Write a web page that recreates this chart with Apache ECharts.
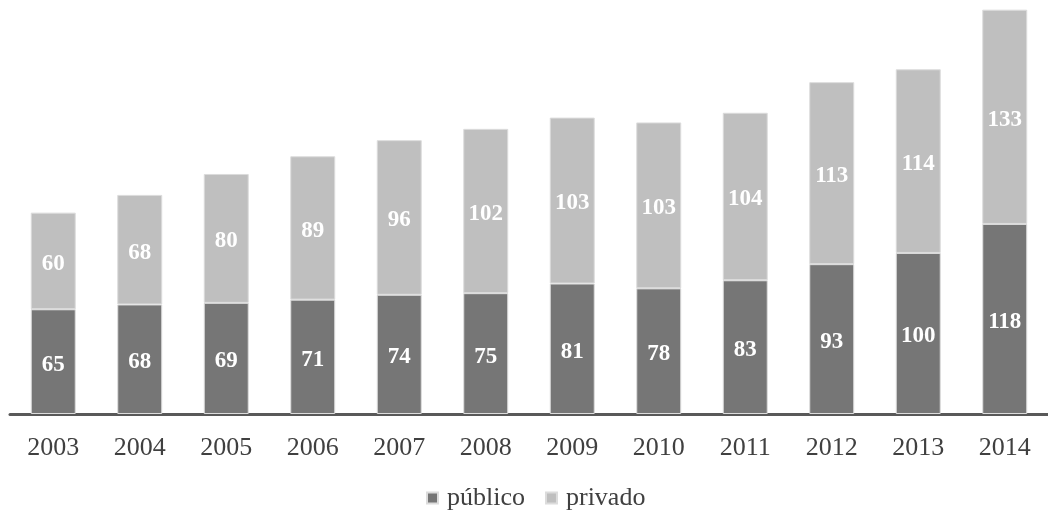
<!DOCTYPE html>
<html>
<head>
<meta charset="utf-8">
<script src="https://cdn.jsdelivr.net/npm/echarts@6/dist/echarts.min.js"></script>
<style>
  html, body { margin: 0; padding: 0; background: #ffffff; }
  #chart { width: 1048px; height: 517px; }
</style>
</head>
<body>
<div id="chart"></div>
<script>
// Years on the category axis
const years = ['2003', '2004', '2005', '2006', '2007', '2008', '2009', '2010', '2011', '2012', '2013', '2014'];
// Public sector values (lower segment)
const publico = [65, 68, 69, 71, 74, 75, 81, 78, 83, 93, 100, 118];
// Private sector values (upper segment)
const privado = [60, 68, 80, 89, 96, 102, 103, 103, 104, 113, 114, 133];

const serif = '"Liberation Serif", "Times New Roman", serif';

const chart = echarts.init(document.getElementById('chart'), null, { renderer: 'canvas' });

const segLabel = {
  show: true,
  position: 'inside',
  offset: [0, 3],
  color: '#ffffff',
  fontFamily: serif,
  fontWeight: 'bold',
  fontSize: 23
};

chart.setOption({
  animation: false,
  backgroundColor: '#ffffff',
  grid: { left: 10, right: -5, top: 0, bottom: 103, containLabel: false },
  legend: {
    data: ['público', 'privado'],
    bottom: 1,
    left: 421,
    itemWidth: 11,
    itemHeight: 11,
    itemGap: 20,
    icon: 'rect',
    textStyle: { fontFamily: serif, fontSize: 26, color: '#404040', padding: [0, 0, 0, 4] }
  },
  xAxis: {
    type: 'category',
    data: years,
    axisLine: { show: true, lineStyle: { color: '#595959', width: 3 } },
    axisTick: { show: false },
    axisLabel: { fontFamily: serif, fontSize: 26, color: '#404040', margin: 21 }
  },
  yAxis: {
    type: 'value',
    min: 0,
    max: 257,
    show: false,
    splitLine: { show: false }
  },
  series: [
    {
      name: 'público',
      type: 'bar',
      stack: 'total',
      data: publico,
      barWidth: '52%',
      itemStyle: { color: '#767676', borderColor: '#dcdcdc', borderWidth: 1 },
      label: segLabel
    },
    {
      name: 'privado',
      type: 'bar',
      stack: 'total',
      data: privado,
      barWidth: '52%',
      itemStyle: { color: '#bfbfbf', borderColor: '#dcdcdc', borderWidth: 1 },
      label: segLabel
    }
  ]
});
</script>
</body>
</html>
